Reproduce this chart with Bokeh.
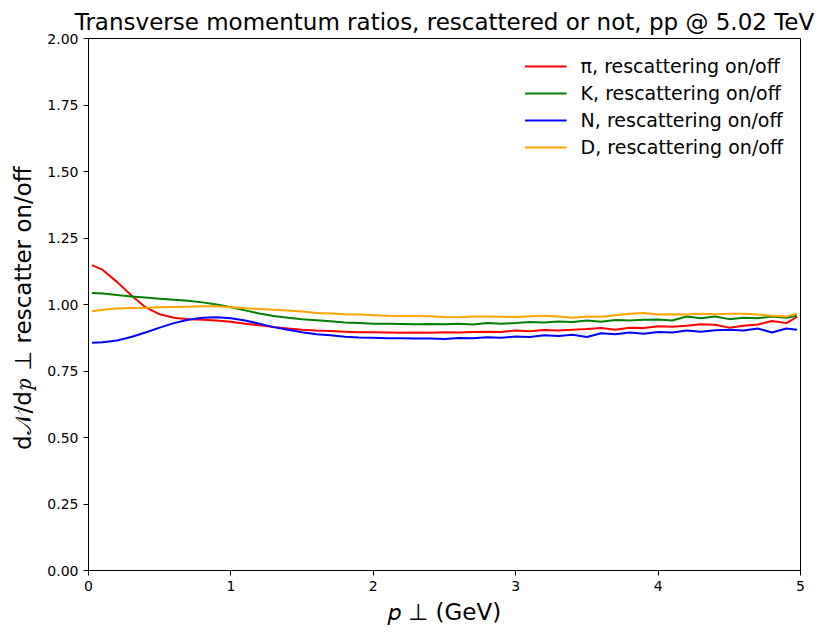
from bokeh.plotting import figure
from bokeh.models import Range1d, FixedTicker, NumeralTickFormatter, Legend, LegendItem
from bokeh.embed import file_html
from bokeh.resources import INLINE

pt = [0.025, 0.1, 0.2, 0.3, 0.4, 0.5, 0.6, 0.7, 0.8, 0.9,
      1.0, 1.1, 1.2, 1.3, 1.4, 1.5, 1.6, 1.7, 1.8, 1.9,
      2.0, 2.1, 2.2, 2.3, 2.4, 2.5, 2.6, 2.7, 2.8, 2.9,
      3.0, 3.1, 3.2, 3.3, 3.4, 3.5, 3.6, 3.7, 3.8, 3.9,
      4.0, 4.1, 4.2, 4.3, 4.4, 4.5, 4.6, 4.7, 4.8, 4.9, 4.975]

pion = [1.148, 1.130, 1.085, 1.035, 0.990, 0.963, 0.950, 0.945, 0.943, 0.940,
        0.935, 0.928, 0.922, 0.915, 0.910, 0.905, 0.902, 0.900, 0.898, 0.896,
        0.896, 0.895, 0.894, 0.895, 0.894, 0.896, 0.895, 0.897, 0.898, 0.897,
        0.902, 0.899, 0.904, 0.902, 0.905, 0.908, 0.912, 0.905, 0.913, 0.912,
        0.918, 0.916, 0.920, 0.926, 0.924, 0.913, 0.920, 0.925, 0.938, 0.930, 0.953]

kaon = [1.043, 1.041, 1.036, 1.030, 1.026, 1.022, 1.018, 1.014, 1.008, 1.000,
        0.990, 0.978, 0.966, 0.957, 0.950, 0.945, 0.941, 0.937, 0.932, 0.930,
        0.928, 0.928, 0.927, 0.926, 0.927, 0.926, 0.928, 0.925, 0.930, 0.928,
        0.930, 0.934, 0.932, 0.936, 0.934, 0.940, 0.935, 0.942, 0.940, 0.943,
        0.944, 0.940, 0.955, 0.948, 0.955, 0.945, 0.950, 0.948, 0.955, 0.950, 0.958]

nucleon = [0.856, 0.858, 0.865, 0.878, 0.895, 0.913, 0.930, 0.943, 0.950, 0.952,
           0.948, 0.940, 0.928, 0.915, 0.905, 0.896, 0.888, 0.884, 0.879, 0.876,
           0.875, 0.873, 0.873, 0.872, 0.872, 0.870, 0.874, 0.873, 0.877, 0.875,
           0.880, 0.878, 0.884, 0.882, 0.886, 0.878, 0.892, 0.888, 0.895, 0.890,
           0.897, 0.895, 0.902, 0.898, 0.903, 0.905, 0.902, 0.910, 0.895, 0.910, 0.905]

dmeson = [0.975, 0.980, 0.985, 0.987, 0.988, 0.990, 0.991, 0.992, 0.993, 0.993,
          0.990, 0.986, 0.983, 0.980, 0.977, 0.974, 0.968, 0.966, 0.963, 0.962,
          0.960, 0.958, 0.957, 0.957, 0.956, 0.953, 0.952, 0.955, 0.955, 0.954,
          0.953, 0.956, 0.958, 0.955, 0.950, 0.955, 0.954, 0.960, 0.965, 0.968,
          0.962, 0.963, 0.962, 0.965, 0.963, 0.965, 0.965, 0.962, 0.958, 0.955, 0.965]

labels = ["π, rescattering on/off", "K, rescattering on/off",
          "N, rescattering on/off", "D, rescattering on/off"]
colors = ["red", "green", "blue", "orange"]
series = [pion, kaon, nucleon, dmeson]

x_ticks = [0, 1, 2, 3, 4, 5]
y_ticks = [0.0, 0.25, 0.5, 0.75, 1.0, 1.25, 1.5, 1.75, 2.0]

FONT = "DejaVu Sans"

p = figure(frame_width=712, frame_height=532, output_backend="svg", toolbar_location=None,
           x_range=Range1d(0, 5), y_range=Range1d(0, 2),
           title="Transverse momentum ratios, rescattered or not, pp @ 5.02 TeV",
           min_border_left=88, min_border_right=26, min_border_top=38, min_border_bottom=60)

p.title.text_font = FONT
p.title.text_font_size = "23px"
p.title.text_font_style = "normal"
p.title.text_color = "black"
p.title.align = "center"
p.title.offset = 0
p.title.standoff = 8

items = []
for ys, c, lab in zip(series, colors, labels):
    r = p.line(pt, ys, line_color=c, line_width=2)
    items.append(LegendItem(label=lab, renderers=[r]))

legend = Legend(items=items, location="top_right")
legend.border_line_color = None
legend.background_fill_alpha = 0
legend.label_text_font = FONT
legend.label_text_font_size = "19px"
legend.label_text_color = "black"
legend.glyph_width = 42
legend.label_standoff = 14
legend.spacing = 5
legend.margin = 17
legend.padding = 5
p.add_layout(legend)

p.xgrid.visible = False
p.ygrid.visible = False
p.outline_line_color = "black"
p.outline_line_width = 1

for ax in (p.xaxis, p.yaxis):
    ax.major_label_text_font = FONT
    ax.major_label_text_font_size = "14px"
    ax.major_label_text_color = "black"
    ax.axis_label_text_font = FONT
    ax.axis_label_text_font_size = "23px"
    ax.axis_label_text_font_style = "normal"
    ax.axis_label_text_color = "black"
    ax.minor_tick_line_color = None
    ax.major_tick_out = 5
    ax.major_tick_in = 0
    ax.major_tick_line_color = "black"
    ax.axis_line_color = "black"

p.xaxis.ticker = FixedTicker(ticks=x_ticks)
p.yaxis.ticker = FixedTicker(ticks=y_ticks)
p.yaxis.formatter = NumeralTickFormatter(format="0.00")
p.xaxis.axis_label = "𝑝 ⊥ (GeV)"
p.yaxis.axis_label = "d𝒩/d𝑝 ⊥  rescatter on/off"
p.xaxis.axis_label_standoff = 5
p.yaxis.axis_label_standoff = 8

open("out.html", "w").write(file_html(p, INLINE))
